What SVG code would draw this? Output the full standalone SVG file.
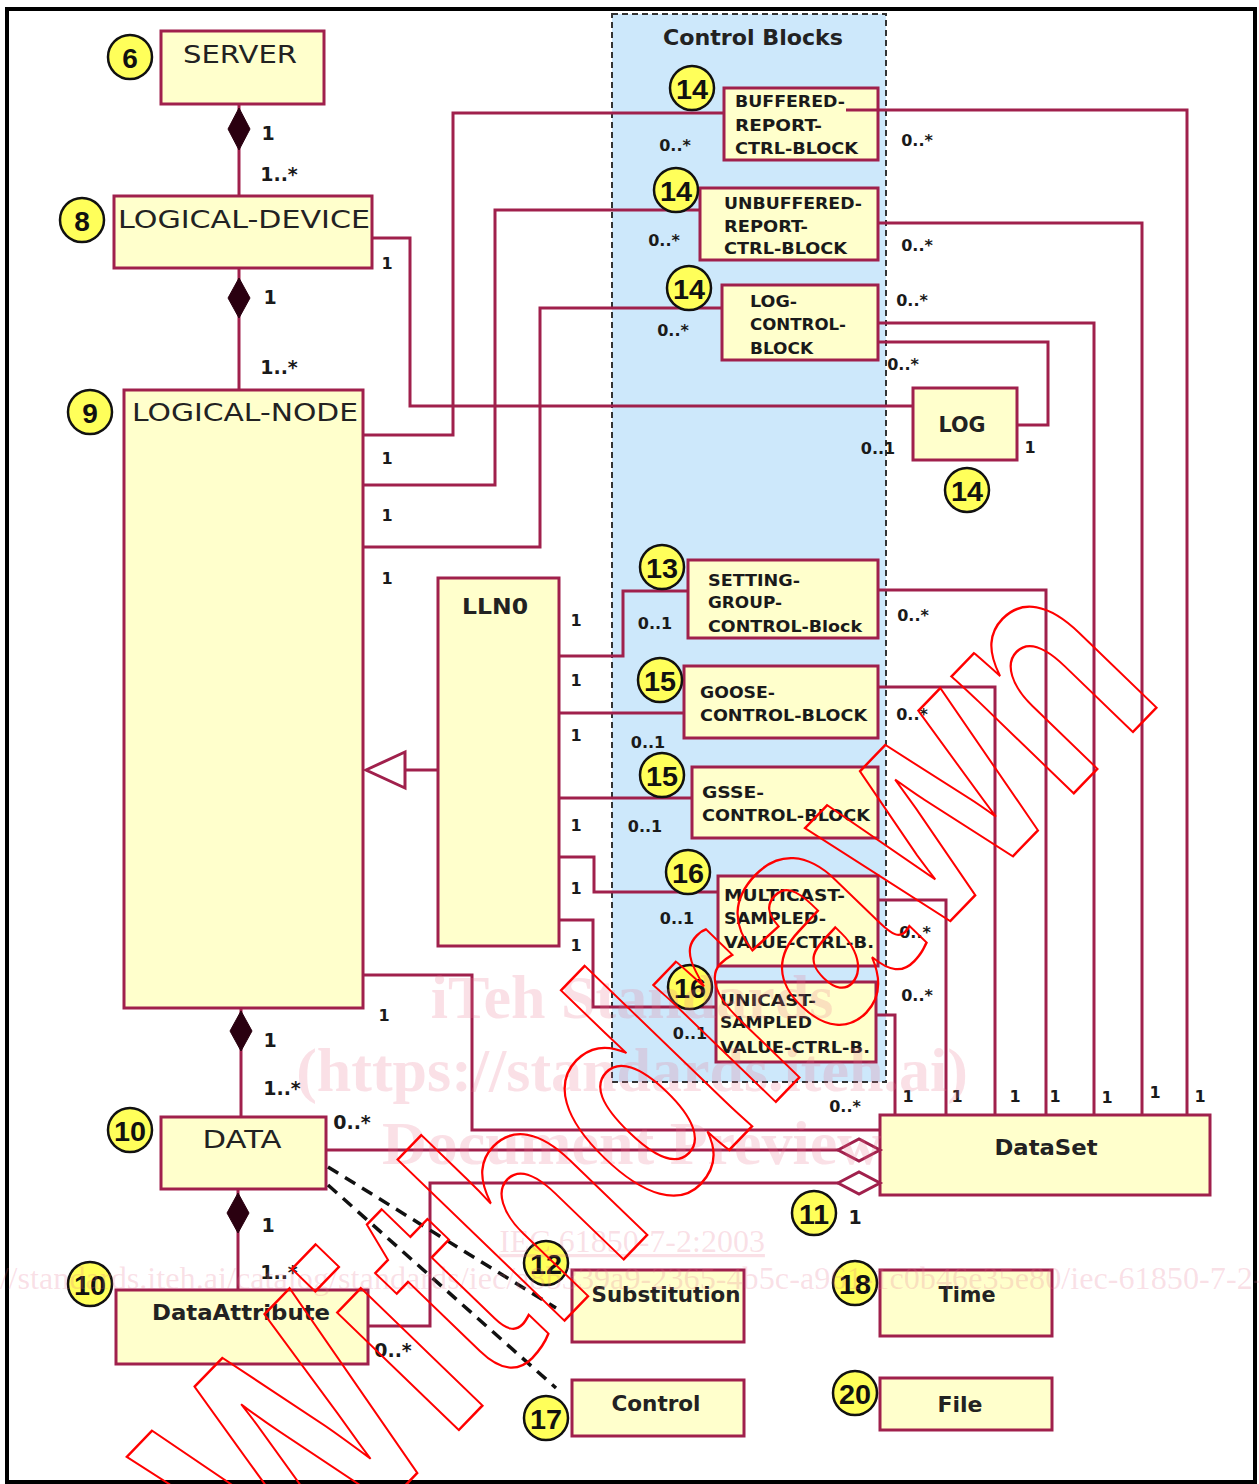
<svg xmlns="http://www.w3.org/2000/svg" width="1259" height="1484" viewBox="0 0 1259 1484">
<defs>
<style>
.box{fill:#ffffcc;stroke:#a0204c;stroke-width:3}
.ln{fill:none;stroke:#a0204c;stroke-width:3}
.fd{fill:#2a0010;stroke:#2a0010;stroke-width:1}
.hd{fill:#ffffff;stroke:#a0204c;stroke-width:3}
.dash{fill:none;stroke:#111;stroke-width:3.5;stroke-dasharray:12 8}
.badge circle{fill:#ffff5a;stroke:#111;stroke-width:2.5}
.badge text{font-family:"Liberation Sans",Arial,sans-serif;font-weight:bold;font-size:28px;fill:#111;text-anchor:middle;dominant-baseline:central}
.big{font-family:"DejaVu Sans",Verdana,sans-serif;font-size:24px;fill:#222;text-anchor:middle;dominant-baseline:central}
.bigb{font-family:"DejaVu Sans",Verdana,sans-serif;font-weight:bold;font-size:21px;fill:#222;text-anchor:middle;dominant-baseline:central}
.blk{font-family:"DejaVu Sans",Verdana,sans-serif;font-weight:bold;font-size:16px;fill:#1a1a1a;dominant-baseline:central}
.m{font-family:"DejaVu Sans",Verdana,sans-serif;font-weight:bold;font-size:16px;fill:#1a1a1a;text-anchor:middle;dominant-baseline:central}
.m2{font-family:"DejaVu Sans",Verdana,sans-serif;font-weight:bold;font-size:19px;fill:#1a1a1a;text-anchor:middle;dominant-baseline:central}
.wm{font-family:"Liberation Serif","Times New Roman",serif;font-weight:bold;font-size:62px;fill:#e8738f;fill-opacity:0.22;text-anchor:middle}
.wm2{font-family:"Liberation Serif","Times New Roman",serif;font-size:32px;fill:#e8738f;fill-opacity:0.22}
</style>
</defs>
<rect x="0" y="0" width="1259" height="1484" fill="#ffffff"/>
<rect x="7" y="9" width="1248" height="1473" fill="none" stroke="#000" stroke-width="4"/>

<g id="control-blocks-region">
<rect x="612" y="14" width="274" height="1068" fill="#cde8fb" stroke="#333" stroke-width="2" stroke-dasharray="6 4"/>
<text x="753" y="38" font-family="DejaVu Sans, Verdana, sans-serif" font-weight="bold" font-size="21" fill="#222" text-anchor="middle" dominant-baseline="central" textLength="180" lengthAdjust="spacingAndGlyphs">Control Blocks</text>
</g>

<g id="server"><rect class="box" x="161" y="31" width="163" height="73"/><text class="big" x="240" y="55" textLength="114" lengthAdjust="spacingAndGlyphs">SERVER</text></g>
<g id="logical-device"><rect class="box" x="114" y="196" width="258" height="72"/><text class="big" x="244" y="220" textLength="252" lengthAdjust="spacingAndGlyphs">LOGICAL-DEVICE</text></g>
<g id="logical-node"><rect class="box" x="124" y="390" width="239" height="618"/><text class="big" x="245" y="413" textLength="226" lengthAdjust="spacingAndGlyphs">LOGICAL-NODE</text></g>
<g id="lln0"><rect class="box" x="438" y="578" width="121" height="368"/><text class="bigb" x="495" y="607" textLength="66" lengthAdjust="spacingAndGlyphs">LLN0</text></g>
<g id="brcb"><rect class="box" x="724" y="88" width="154" height="72"/>
<text class="blk" x="735" y="101" textLength="110" lengthAdjust="spacingAndGlyphs">BUFFERED-</text>
<text class="blk" x="735" y="125" textLength="87" lengthAdjust="spacingAndGlyphs">REPORT-</text>
<text class="blk" x="735" y="148" textLength="123" lengthAdjust="spacingAndGlyphs">CTRL-BLOCK</text></g>
<g id="urcb"><rect class="box" x="700" y="188" width="178" height="72"/>
<text class="blk" x="724" y="203" textLength="138" lengthAdjust="spacingAndGlyphs">UNBUFFERED-</text>
<text class="blk" x="724" y="226" textLength="84" lengthAdjust="spacingAndGlyphs">REPORT-</text>
<text class="blk" x="724" y="248" textLength="123" lengthAdjust="spacingAndGlyphs">CTRL-BLOCK</text></g>
<g id="lcb"><rect class="box" x="722" y="285" width="156" height="75"/>
<text class="blk" x="750" y="301" textLength="47" lengthAdjust="spacingAndGlyphs">LOG-</text>
<text class="blk" x="750" y="324" textLength="96" lengthAdjust="spacingAndGlyphs">CONTROL-</text>
<text class="blk" x="750" y="348" textLength="63" lengthAdjust="spacingAndGlyphs">BLOCK</text></g>
<g id="log"><rect class="box" x="913" y="388" width="104" height="72"/><text class="bigb" x="962" y="425" textLength="47" lengthAdjust="spacingAndGlyphs">LOG</text></g>
<g id="sgcb"><rect class="box" x="688" y="560" width="190" height="78"/>
<text class="blk" x="708" y="580" textLength="92" lengthAdjust="spacingAndGlyphs">SETTING-</text>
<text class="blk" x="708" y="602" textLength="74" lengthAdjust="spacingAndGlyphs">GROUP-</text>
<text class="blk" x="708" y="626" textLength="154" lengthAdjust="spacingAndGlyphs">CONTROL-Block</text></g>
<g id="gocb"><rect class="box" x="684" y="666" width="194" height="72"/>
<text class="blk" x="700" y="692" textLength="75" lengthAdjust="spacingAndGlyphs">GOOSE-</text>
<text class="blk" x="700" y="715" textLength="167" lengthAdjust="spacingAndGlyphs">CONTROL-BLOCK</text></g>
<g id="gsse"><rect class="box" x="692" y="767" width="186" height="71"/>
<text class="blk" x="702" y="792" textLength="62" lengthAdjust="spacingAndGlyphs">GSSE-</text>
<text class="blk" x="702" y="815" textLength="168" lengthAdjust="spacingAndGlyphs">CONTROL-BLOCK</text></g>
<g id="msvcb"><rect class="box" x="718" y="876" width="160" height="90"/>
<text class="blk" x="724" y="895" textLength="121" lengthAdjust="spacingAndGlyphs">MULTICAST-</text>
<text class="blk" x="724" y="918" textLength="102" lengthAdjust="spacingAndGlyphs">SAMPLED-</text>
<text class="blk" x="724" y="942" textLength="150" lengthAdjust="spacingAndGlyphs">VALUE-CTRL-B.</text></g>
<g id="usvcb"><rect class="box" x="716" y="982" width="160" height="80"/>
<text class="blk" x="720" y="1000" textLength="96" lengthAdjust="spacingAndGlyphs">UNICAST-</text>
<text class="blk" x="720" y="1022" textLength="92" lengthAdjust="spacingAndGlyphs">SAMPLED</text>
<text class="blk" x="720" y="1047" textLength="150" lengthAdjust="spacingAndGlyphs">VALUE-CTRL-B.</text></g>
<g id="dataset"><rect class="box" x="880" y="1115" width="330" height="80"/><text class="bigb" x="1046" y="1148" textLength="103" lengthAdjust="spacingAndGlyphs">DataSet</text></g>
<g id="data"><rect class="box" x="161" y="1117" width="165" height="72"/><text class="big" x="242" y="1140" textLength="79" lengthAdjust="spacingAndGlyphs">DATA</text></g>
<g id="data-attribute"><rect class="box" x="116" y="1290" width="252" height="74"/><text class="bigb" x="241" y="1313" textLength="178" lengthAdjust="spacingAndGlyphs">DataAttribute</text></g>
<g id="substitution"><rect class="box" x="572" y="1270" width="172" height="72"/><text class="bigb" x="666" y="1295" textLength="149" lengthAdjust="spacingAndGlyphs">Substitution</text></g>
<g id="control"><rect class="box" x="572" y="1380" width="172" height="56"/><text class="bigb" x="656" y="1404" textLength="89" lengthAdjust="spacingAndGlyphs">Control</text></g>
<g id="time"><rect class="box" x="880" y="1270" width="172" height="66"/><text class="bigb" x="967" y="1295" textLength="57" lengthAdjust="spacingAndGlyphs">Time</text></g>
<g id="file"><rect class="box" x="880" y="1378" width="172" height="52"/><text class="bigb" x="960" y="1405" textLength="45" lengthAdjust="spacingAndGlyphs">File</text></g>

<g id="connectors">
<path class="ln" d="M239,104 V196"/>
<polygon class="fd" points="239,108 250,129 239,150 228,129"/>
<path class="ln" d="M239,268 V390"/>
<polygon class="fd" points="239,278 250,298 239,318 228,298"/>
<path class="ln" d="M372,238 H410 V406 H913"/>
<path class="ln" d="M363,435 H453 V113 H724"/>
<path class="ln" d="M363,485 H495 V210 H700"/>
<path class="ln" d="M363,547 H540 V308 H722"/>
<path class="ln" d="M846,110 H1187 V1115"/>
<path class="ln" d="M878,223 H1142 V1115"/>
<path class="ln" d="M878,323 H1094 V1115"/>
<path class="ln" d="M878,342 H1048 V425 H1017"/>
<path class="ln" d="M878,590 H1046 V1115"/>
<path class="ln" d="M878,687 H995 V1115"/>
<path class="ln" d="M878,900 H946 V1115"/>
<path class="ln" d="M876,1015 H895 V1115"/>
<path class="ln" d="M559,656 H623 V591 H688"/>
<path class="ln" d="M559,713 H684"/>
<path class="ln" d="M559,798 H692"/>
<path class="ln" d="M559,857 H594 V892 H718"/>
<path class="ln" d="M559,920 H593 V1007 H716"/>
<path class="ln" d="M438,770 H405"/>
<polygon class="hd" points="366,770 405,752 405,788"/>
<path class="ln" d="M363,975 H472 V1130 H880"/>
<path class="ln" d="M241,1008 V1117"/>
<polygon class="fd" points="241,1011 252,1031 241,1051 230,1031"/>
<path class="ln" d="M326,1150 H838"/>
<polygon class="hd" points="838,1150 859,1139 880,1150 859,1161"/>
<path class="ln" d="M368,1326 H430 V1183 H838"/>
<polygon class="hd" points="838,1183 859,1172 880,1183 859,1194"/>
<path class="ln" d="M238,1189 V1290"/>
<polygon class="fd" points="238,1193 249,1213 238,1233 227,1213"/>
<path class="dash" d="M328,1167 L556,1308"/>
<path class="dash" d="M328,1185 L556,1388"/>
</g>

<g id="multiplicities">
<text class="m2" x="268" y="133">1</text>
<text class="m2" x="279" y="174">1..*</text>
<text class="m2" x="270" y="297">1</text>
<text class="m2" x="279" y="367">1..*</text>
<text class="m" x="387" y="263">1</text>
<text class="m" x="387" y="458">1</text>
<text class="m" x="387" y="515">1</text>
<text class="m" x="387" y="578">1</text>
<text class="m" x="675" y="145">0..*</text>
<text class="m" x="664" y="240">0..*</text>
<text class="m" x="673" y="330">0..*</text>
<text class="m" x="917" y="140">0..*</text>
<text class="m" x="917" y="245">0..*</text>
<text class="m" x="912" y="300">0..*</text>
<text class="m" x="903" y="364">0..*</text>
<text class="m" x="878" y="448">0..1</text>
<text class="m" x="1030" y="447">1</text>
<text class="m" x="576" y="620">1</text>
<text class="m" x="576" y="680">1</text>
<text class="m" x="576" y="735">1</text>
<text class="m" x="576" y="825">1</text>
<text class="m" x="576" y="888">1</text>
<text class="m" x="576" y="945">1</text>
<text class="m" x="655" y="623">0..1</text>
<text class="m" x="648" y="742">0..1</text>
<text class="m" x="645" y="826">0..1</text>
<text class="m" x="677" y="918">0..1</text>
<text class="m" x="690" y="1033">0..1</text>
<text class="m" x="913" y="615">0..*</text>
<text class="m" x="912" y="714">0..*</text>
<text class="m" x="915" y="932">0..*</text>
<text class="m" x="917" y="995">0..*</text>
<text class="m" x="384" y="1015">1</text>
<text class="m" x="845" y="1106">0..*</text>
<text class="m" x="908" y="1096">1</text>
<text class="m" x="957" y="1096">1</text>
<text class="m" x="1015" y="1096">1</text>
<text class="m" x="1055" y="1096">1</text>
<text class="m" x="1107" y="1097">1</text>
<text class="m" x="1155" y="1092">1</text>
<text class="m" x="1200" y="1096">1</text>
<text class="m2" x="270" y="1040">1</text>
<text class="m2" x="282" y="1088">1..*</text>
<text class="m2" x="352" y="1122">0..*</text>
<text class="m2" x="268" y="1225">1</text>
<text class="m2" x="279" y="1272">1..*</text>
<text class="m2" x="393" y="1350">0..*</text>
<text class="m2" x="855" y="1217">1</text>
</g>

<g id="badges">
<g class="badge"><circle cx="130" cy="57" r="22"/><text x="130" y="58">6</text></g>
<g class="badge"><circle cx="82" cy="220" r="22"/><text x="82" y="221">8</text></g>
<g class="badge"><circle cx="90" cy="412" r="22"/><text x="90" y="413">9</text></g>
<g class="badge"><circle cx="692" cy="88" r="22"/><text x="692" y="89" textLength="32" lengthAdjust="spacingAndGlyphs">14</text></g>
<g class="badge"><circle cx="676" cy="190" r="22"/><text x="676" y="191" textLength="32" lengthAdjust="spacingAndGlyphs">14</text></g>
<g class="badge"><circle cx="689" cy="288" r="22"/><text x="689" y="289" textLength="32" lengthAdjust="spacingAndGlyphs">14</text></g>
<g class="badge"><circle cx="967" cy="490" r="22"/><text x="967" y="491" textLength="32" lengthAdjust="spacingAndGlyphs">14</text></g>
<g class="badge"><circle cx="662" cy="567" r="22"/><text x="662" y="568" textLength="32" lengthAdjust="spacingAndGlyphs">13</text></g>
<g class="badge"><circle cx="660" cy="680" r="22"/><text x="660" y="681" textLength="32" lengthAdjust="spacingAndGlyphs">15</text></g>
<g class="badge"><circle cx="662" cy="775" r="22"/><text x="662" y="776" textLength="32" lengthAdjust="spacingAndGlyphs">15</text></g>
<g class="badge"><circle cx="688" cy="872" r="22"/><text x="688" y="873" textLength="32" lengthAdjust="spacingAndGlyphs">16</text></g>
<g class="badge"><circle cx="690" cy="987" r="22"/><text x="690" y="988" textLength="32" lengthAdjust="spacingAndGlyphs">16</text></g>
<g class="badge"><circle cx="814" cy="1213" r="22"/><text x="814" y="1214" textLength="30" lengthAdjust="spacingAndGlyphs">11</text></g>
<g class="badge"><circle cx="130" cy="1130" r="22"/><text x="130" y="1131" textLength="32" lengthAdjust="spacingAndGlyphs">10</text></g>
<g class="badge"><circle cx="90" cy="1284" r="22"/><text x="90" y="1285" textLength="32" lengthAdjust="spacingAndGlyphs">10</text></g>
<g class="badge"><circle cx="546" cy="1263" r="22"/><text x="546" y="1264" textLength="32" lengthAdjust="spacingAndGlyphs">12</text></g>
<g class="badge"><circle cx="546" cy="1418" r="22"/><text x="546" y="1419" textLength="32" lengthAdjust="spacingAndGlyphs">17</text></g>
<g class="badge"><circle cx="855" cy="1283" r="22"/><text x="855" y="1284" textLength="32" lengthAdjust="spacingAndGlyphs">18</text></g>
<g class="badge"><circle cx="855" cy="1393" r="22"/><text x="855" y="1394" textLength="32" lengthAdjust="spacingAndGlyphs">20</text></g>
</g>

<g id="watermark">
<text class="wm" x="632" y="1018">iTeh Standards</text>
<text class="wm" x="632" y="1091">(https://standards.iteh.ai)</text>
<text class="wm" x="632" y="1164">Document Preview</text>
<text class="wm2" x="632" y="1252" text-anchor="middle" text-decoration="underline">IEC 61850-7-2:2003</text>
<text class="wm2" x="-72" y="1289" textLength="1400" lengthAdjust="spacingAndGlyphs">https://standards.iteh.ai/catalog/standards/iec/a8b339a9-2365-4b5c-a961-1c0b46e35e80/iec-61850-7-2-2003</text>
<text x="285" y="1610" transform="rotate(-46 285 1610)" font-family="Liberation Sans, Arial, sans-serif" font-weight="bold" font-size="320" fill="none" stroke="#ff0000" stroke-width="2.5" textLength="1270" lengthAdjust="spacingAndGlyphs">Withdrawn</text>
</g>
</svg>
